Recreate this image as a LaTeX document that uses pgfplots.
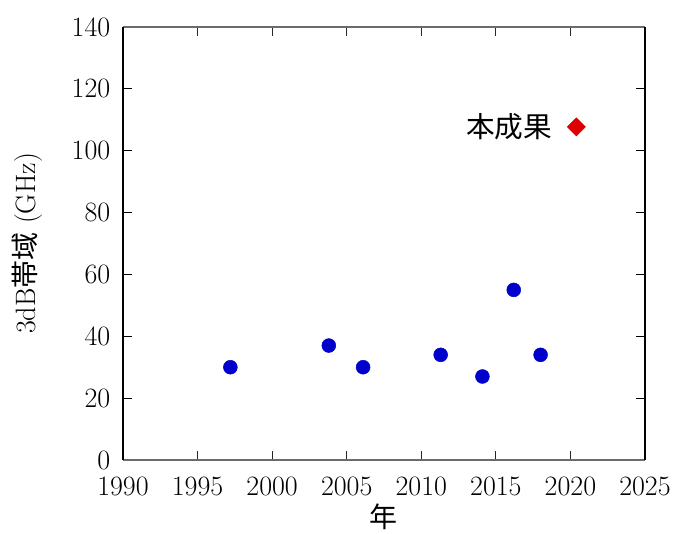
\documentclass[border=0pt]{standalone}
\usepackage{pgfplots}
\pgfplotsset{compat=1.18}
\usepackage{fontspec}
\newfontfamily\cjk{Noto Sans CJK JP}
\definecolor{ptblue}{RGB}{0,0,205}
\definecolor{ptred}{RGB}{220,0,0}
\begin{document}
\begin{tikzpicture}
\begin{axis}[
  scale only axis,
  width=391.5pt, height=324.75pt,
  xmin=1990, xmax=2025, ymin=0, ymax=140,
  xtick={1990,1995,...,2025}, ytick={0,20,...,140},
  tick align=inside,
  major tick length=6.75pt,
  separate axis lines,
  x axis line style={draw=gray!85!black, line width=0.9pt},
  y axis line style={draw=black, line width=1.1pt},
  xtick style={draw=gray!30!black, line width=0.7pt},
  ytick style={draw=black, line width=0.9pt},
  /pgf/number format/1000 sep={},
  /pgf/number format/assume math mode=true,
  tick label style={font=\fontsize{21}{23}\selectfont},
  xticklabel style={yshift=-9pt},
  yticklabel style={xshift=-6pt},
  xlabel={\cjk 年},
  ylabel={3dB{\cjk 帯域} (GHz)},
  label style={font=\fontsize{21}{23}\selectfont},
  xlabel style={yshift=1pt},
  ylabel style={yshift=15pt},
  clip=false,
]
\addplot[only marks, mark=*, mark size=5.2pt, color=ptblue] coordinates {
  (1997.2,30) (2003.8,37) (2006.1,30) (2011.3,34) (2014.1,27) (2016.2,55) (2018.0,34)
};
\addplot[only marks, mark=square*, mark size=4.8pt, mark options={rotate=45}, color=ptred] coordinates {
  (2020.4,107.7)
};
\node[anchor=east, font=\cjk\fontsize{21.5}{23}\selectfont, inner sep=0pt] at (axis cs:2018.8,107.7) {本成果};
\end{axis}
\pgfresetboundingbox
\path (-92.25pt,-55.5pt) rectangle (414pt,345pt);
\end{tikzpicture}
\end{document}
